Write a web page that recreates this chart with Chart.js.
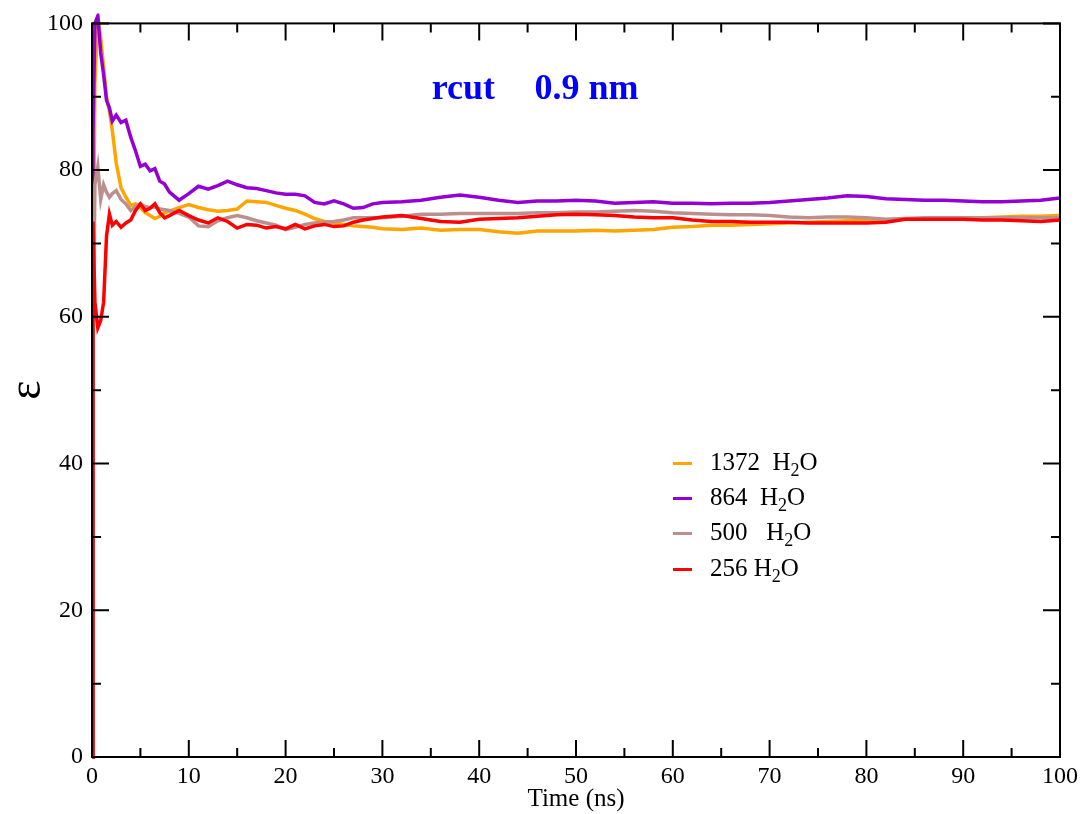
<!DOCTYPE html>
<html>
<head>
<meta charset="utf-8">
<title>rcut 0.9 nm</title>
<script src="https://cdn.jsdelivr.net/npm/chart.js@4.4.1/dist/chart.umd.min.js"></script>
<style>
    body { margin: 0; background: #fff; }
    #wrap { position: relative; width: 1083px; height: 814px; }
    #legend { position: absolute; left: 673px; top: 0; font-family: "Liberation Serif", serif; font-size: 25px; color: #000; }
    .row { position: absolute; left: 0; white-space: pre; line-height: 30px; height: 30px; }
    .swatch { display: inline-block; width: 19px; height: 3px; margin-right: 18px; vertical-align: middle; position: relative; top: -1px; }
    sub { font-size: 18px; vertical-align: -6px; line-height: 0; }
</style>
</head>
<body>
<div id="wrap">
    <canvas id="chart" width="1083" height="814"></canvas>
    <div id="legend"></div>
</div>
<script>
// time axis (ns)
const times = [0, 0.1, 0.3, 0.6, 0.9, 1.2, 1.5, 1.8, 2.1, 2.5, 3, 3.5, 4, 4.5, 5, 5.5, 6, 6.5, 7, 7.5, 8,
    9, 10, 11, 12, 13, 14, 15, 16, 17, 18, 19, 20, 21, 22, 23, 24, 25, 26, 27, 28, 29, 30,
    32, 34, 36, 38, 40, 42, 44, 46, 48, 50, 52, 54, 56, 58, 60, 62, 64, 66, 68, 70,
    72, 74, 76, 78, 80, 82, 84, 86, 88, 90, 92, 94, 96, 98, 100];

const eps1372 = [0, 60, 92, 101, 98, 94, 90, 88, 85.4, 81, 77.6, 76.3, 75.2, 75.4, 74.9, 74.2, 73.8, 73.4, 73.7, 74.2, 74.4,
    74.9, 75.3, 74.9, 74.6, 74.4, 74.5, 74.7, 75.8, 75.7, 75.6, 75.2, 74.8, 74.5, 74, 73.4, 73, 72.8, 72.6, 72.4, 72.3, 72.2, 72.0,
    71.9, 72.1, 71.8, 71.9, 71.9, 71.6, 71.4, 71.7, 71.7, 71.7, 71.8, 71.7, 71.8, 71.9, 72.2, 72.3, 72.5, 72.5, 72.6, 72.7,
    72.8, 72.9, 73.0, 73.1, 73.2, 73.2, 73.3, 73.3, 73.3, 73.4, 73.5, 73.6, 73.7, 73.7, 73.8];

const eps864 = [0, 85, 100, 101, 96, 93, 89.5, 88.5, 86.7, 87.5, 86.5, 86.8, 84.5, 82.6, 80.5, 80.8, 79.9, 80.2, 78.5, 78.1, 77,
    75.9, 76.8, 77.8, 77.4, 77.9, 78.5, 78.0, 77.6, 77.5, 77.2, 76.9, 76.7, 76.7, 76.5, 75.6, 75.4, 75.8, 75.4, 74.8, 74.9, 75.4, 75.6,
    75.7, 75.9, 76.3, 76.6, 76.3, 75.9, 75.6, 75.8, 75.8, 75.9, 75.8, 75.5, 75.6, 75.7, 75.5, 75.5, 75.4, 75.5, 75.5, 75.6,
    75.8, 76.0, 76.2, 76.5, 76.4, 76.1, 76.0, 75.9, 75.9, 75.8, 75.7, 75.7, 75.8, 75.9, 76.2];

const eps500 = [0, 55, 78, 80.5, 76, 78, 77, 76.3, 76.8, 77.2, 76, 75.4, 74.5, 75, 75.4, 75, 74.9, 75, 74.7, 74.6, 74.5,
    74.1, 73.6, 72.4, 72.3, 73.1, 73.5, 73.8, 73.5, 73.1, 72.8, 72.5, 71.9, 72.2, 72.6, 72.8, 72.9, 73.0, 73.2, 73.5, 73.5, 73.5, 73.5,
    73.7, 74.0, 74.0, 74.1, 74.1, 74.1, 74.1, 74.2, 74.2, 74.3, 74.3, 74.4, 74.5, 74.4, 74.2, 74.1, 74.0, 73.9, 73.9, 73.8,
    73.6, 73.5, 73.6, 73.6, 73.5, 73.3, 73.4, 73.5, 73.5, 73.5, 73.5, 73.5, 73.5, 73.5, 73.5];

const eps256 = [0, 73, 62, 58.5, 59.5, 62, 71, 74, 72.5, 73, 72.2, 72.8, 73.2, 74.5, 75.4, 74.5, 74.8, 75.4, 74.2, 73.5, 73.8,
    74.5, 73.8, 73.2, 72.8, 73.5, 73.0, 72.1, 72.6, 72.5, 72.1, 72.3, 72.0, 72.6, 72.0, 72.4, 72.6, 72.3, 72.4, 72.9, 73.2, 73.4, 73.6,
    73.8, 73.4, 73.0, 72.9, 73.3, 73.4, 73.5, 73.7, 73.9, 74.0, 73.9, 73.8, 73.6, 73.5, 73.5, 73.2, 73.0, 73.0, 72.9, 72.9,
    72.9, 72.8, 72.8, 72.8, 72.8, 72.9, 73.3, 73.3, 73.3, 73.3, 73.2, 73.2, 73.1, 73.0, 73.2];

const seriesNames = ['1372  H', '864  H', '500   H', '256 H'];
const seriesColors = ['#ffa500', '#9400d3', '#bc8f8f', '#ff0000'];
const seriesData = [eps1372, eps864, eps500, eps256];

const xTicks = [0, 10, 20, 30, 40, 50, 60, 70, 80, 90, 100];
const xMinor = [5, 15, 25, 35, 45, 55, 65, 75, 85, 95];
const yTicks = [0, 20, 40, 60, 80, 100];
const yMinor = [10, 30, 50, 70, 90];

const serif = '"Liberation Serif", "Times New Roman", serif';

// inward ticks on all four sides plus the box
const frameTicks = {
    id: 'frameTicks',
    afterDatasetsDraw(chart) {
        const { ctx, chartArea: a, scales: { x, y } } = chart;
        ctx.save();
        ctx.strokeStyle = '#000';
        ctx.lineWidth = 2;
        ctx.strokeRect(a.left, a.top, a.right - a.left, a.bottom - a.top);
        ctx.beginPath();
        const xt = (v, len) => {
            const px = x.getPixelForValue(v);
            ctx.moveTo(px, a.bottom); ctx.lineTo(px, a.bottom - len);
            ctx.moveTo(px, a.top); ctx.lineTo(px, a.top + len);
        };
        const yt = (v, len) => {
            const py = y.getPixelForValue(v);
            ctx.moveTo(a.left, py); ctx.lineTo(a.left + len, py);
            ctx.moveTo(a.right, py); ctx.lineTo(a.right - len, py);
        };
        xTicks.forEach(v => xt(v, 17));
        xMinor.forEach(v => xt(v, 9));
        yTicks.forEach(v => yt(v, 17));
        yMinor.forEach(v => yt(v, 9));
        ctx.stroke();

        ctx.fillStyle = '#0000ff';
        ctx.font = 'bold 36px ' + serif;
        ctx.textAlign = 'left';
        ctx.textBaseline = 'alphabetic';
        const base = y.getPixelForValue(89.7);
        ctx.fillText('rcut', x.getPixelForValue(35.1), base);
        ctx.fillText('0.9 nm', x.getPixelForValue(45.7), base);
        ctx.restore();
    }
};

const ctx = document.getElementById('chart').getContext('2d');
new Chart(ctx, {
    type: 'line',
    data: {
        datasets: seriesData.map((vals, i) => ({
            label: seriesNames[i] + '2O',
            data: vals.map((v, j) => ({ x: times[j], y: v })),
            borderColor: seriesColors[i],
            borderWidth: 3.5,
            pointRadius: 0,
            tension: 0,
            fill: false,
            clip: 10,
            order: 4 - i
        }))
    },
    options: {
        responsive: false,
        animation: false,
        layout: { padding: { top: 22, right: 22, left: 0, bottom: 0 } },
        plugins: { legend: { display: false }, tooltip: { enabled: false } },
        scales: {
            x: {
                type: 'linear', min: 0, max: 100,
                afterBuildTicks: s => { s.ticks = xTicks.map(v => ({ value: v })); },
                afterFit: s => { s.height = 57; },
                grid: { display: false, drawTicks: false },
                border: { display: false },
                ticks: { color: '#000', font: { family: serif, size: 24 }, padding: 5, maxRotation: 0 },
                title: { display: true, text: 'Time (ns)', color: '#000', font: { family: serif, size: 25 }, padding: { top: 0, bottom: 0 } }
            },
            y: {
                type: 'linear', min: 0, max: 100,
                afterBuildTicks: s => { s.ticks = yTicks.map(v => ({ value: v })); },
                afterFit: s => { s.width = 92; },
                grid: { display: false, drawTicks: false },
                border: { display: false },
                ticks: { color: '#000', font: { family: serif, size: 24 }, padding: 9 },
                title: { display: true, text: 'ε', color: '#000', font: { family: serif, size: 46 }, padding: { top: 0, bottom: 0 } }
            }
        }
    },
    plugins: [frameTicks]
});

// legend inside the plot, with subscript 2
const legend = document.getElementById('legend');
const rowCenters = [462, 497, 532, 568];
legend.innerHTML = seriesNames.map((name, i) =>
    `<div class="row" style="top:${rowCenters[i] - 15}px"><span class="swatch" style="background:${seriesColors[i]}"></span>${name}<sub>2</sub>O</div>`
).join('');
</script>
</body>
</html>
